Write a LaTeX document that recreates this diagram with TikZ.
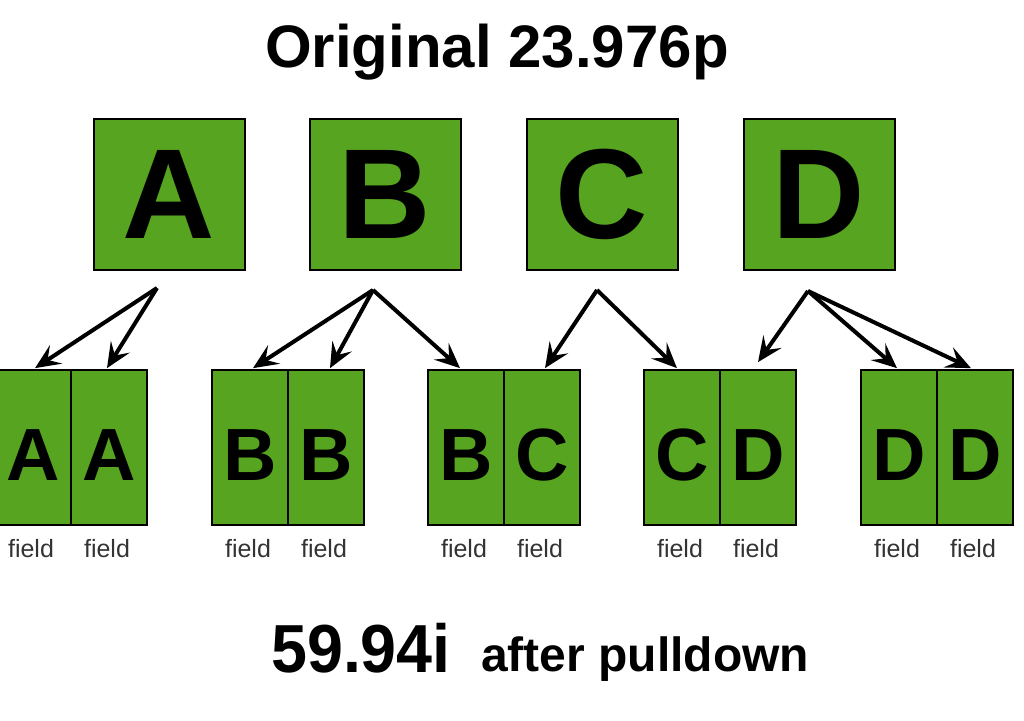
\documentclass[tikz,border=0pt]{standalone}
\usepackage{fontspec}
\setmainfont{Liberation Sans}
\usetikzlibrary{arrows.meta}
\definecolor{boxgreen}{HTML}{56A41F}
\definecolor{fieldgray}{HTML}{333333}
\tikzset{
  bigbox/.style={draw=black, line width=2pt, fill=boxgreen, minimum width=151pt, minimum height=151pt, inner sep=0pt,
    font=\fontsize{128}{128}\selectfont\bfseries},
  fieldbox/.style={draw=black, line width=1.7pt, fill=boxgreen, minimum width=76pt, minimum height=155pt, inner sep=0pt},
  fieldletter/.style={inner sep=0pt, font=\fontsize{74}{74}\selectfont\bfseries},
  fieldlabel/.style={inner sep=0pt, text=fieldgray, font=\fontsize{25}{25}\selectfont},
  conn/.style={line width=4pt, -{Stealth[length=25pt,width=22pt,inset=10pt]}},
}
\begin{document}
\begin{tikzpicture}[x=1pt,y=-1pt]
\useasboundingbox (0,0) rectangle (1024,720);
% title
\node[anchor=base, inner sep=0pt, font=\fontsize{60}{60}\selectfont\bfseries] (title) at (497,67) {Original 23.976p};
% top boxes
\node[bigbox] (A) at (169,194) {A};
\node[bigbox] (B) at (385,194) {B};
\node[bigbox] (C) at (602,194) {C};
\node[bigbox] (D) at (819,194) {D};
% field boxes
\foreach \n/\x/\l in {1/33/A,2/109/A,3/250/B,4/326/B,5/466/B,6/542/C,7/682/C,8/758/D,9/899/D,10/975/D}{
  \node[fieldbox] (f\n) at (\x,447.5) {};
  \node[fieldletter] (l\n) at ([yshift=-8pt]f\n.center) {\l};
  \node[fieldlabel] (t\n) at (\x-2,549) {field};
}
% arrow origins
\coordinate (oA) at (157,288);
\coordinate (oB) at (373,290);
\coordinate (oC) at (597,290);
\coordinate (oD) at (808,291);
\draw[conn] (oA) -- ([xshift=2pt,yshift=1pt]f1.north);
\draw[conn] (oA) -- ([xshift=-2pt,yshift=1pt]f2.north);
\draw[conn] (oB) -- ([xshift=3pt,yshift=1pt]f3.north);
\draw[conn] (oB) -- ([xshift=4pt,yshift=1pt]f4.north);
\draw[conn] (oB) -- ([xshift=-6pt,yshift=1pt]f5.north);
\draw[conn] (oC) -- ([xshift=3pt,yshift=1pt]f6.north);
\draw[conn] (oC) -- ([xshift=-5pt,yshift=1pt]f7.north);
\draw[conn] (oD) -- ([yshift=7pt]f8.north);
\draw[conn] (oD) -- ([xshift=-2pt,yshift=1pt]f9.north);
\draw[conn] (oD) -- ([xshift=-4pt,yshift=1pt]f10.north);
% bottom text
\node[anchor=base west, inner sep=0pt, font=\fontsize{68}{68}\selectfont\bfseries] (rate) at (271,672) {\scalebox{0.95}[1]{59.94i}};
\node[anchor=base west, inner sep=0pt, font=\fontsize{48}{48}\selectfont\bfseries] (after) at (481,671) {after pulldown};
\end{tikzpicture}
\end{document}
